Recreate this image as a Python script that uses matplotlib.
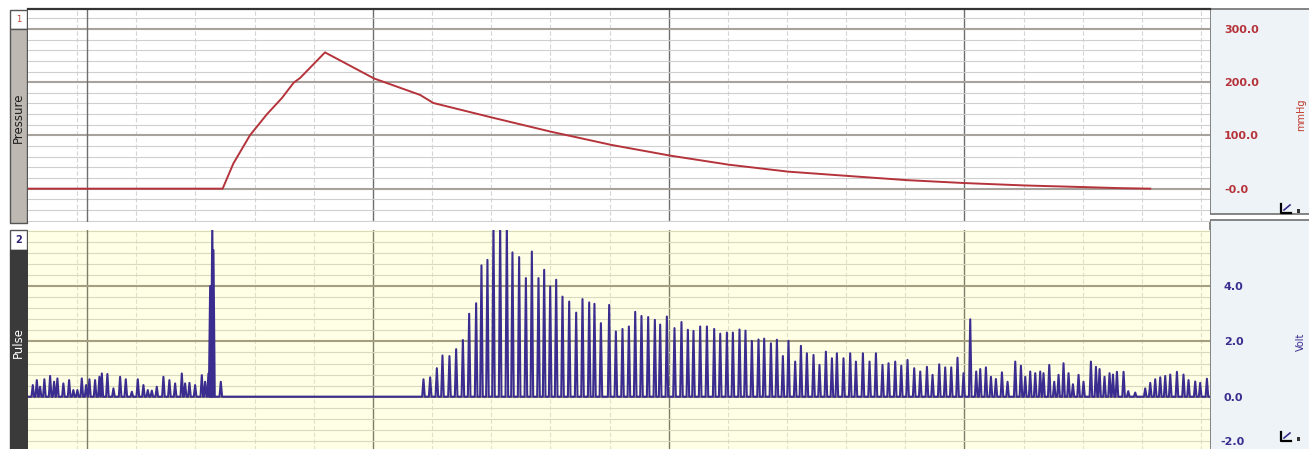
import matplotlib
matplotlib.use("Agg")
import matplotlib.pyplot as plt
from matplotlib.patches import Rectangle
from matplotlib.ticker import MultipleLocator, FixedLocator

# ---- data (time in seconds) ----
# pressure trace, mmHg
p_time = [-8.3, 24.6, 26.4, 29.2, 32.1, 34.6, 36.6, 37.7, 41.9, 50.2, 58.0, 60.2,
          70.0, 80.1, 90.4, 100.3, 110.2, 120.2, 130.2, 140.3, 150.1, 160.3,
          170.1, 176.3, 181.4]
p_val = [0, 0, 47, 100, 140, 170, 199, 208, 256, 207, 176, 161,
         134, 107, 82, 62, 45, 32, 24, 16, 10.5, 6,
         3, 1, 0]

# pulse peaks (time of each beat, peak height in V)
beat_time = [-7.49, -6.81, -6.26, -5.53, -4.56, -3.89, -3.33, -2.32, -1.35, -0.63,
             0.05, 0.79, 1.52, 2.08, 3.04, 3.77, 4.18, 5.12, 6.14, 7.27,
             8.23, 9.25, 10.26, 11.21, 11.95, 12.63, 13.47, 14.59, 15.60, 16.57,
             17.70, 18.26, 18.99, 19.95, 21.08, 21.64, 22.20, 22.49, 22.85, 23.05,
             24.29,
             58.55, 59.68, 60.81, 61.76, 62.94, 64.07, 65.21, 66.27, 67.45, 68.35,
             69.36, 70.38, 71.51, 72.64, 73.59, 74.72, 75.86, 76.87, 77.99, 78.95,
             79.97, 80.98, 82.05, 83.18, 84.36, 85.43, 86.56, 87.45, 88.54, 89.94,
             91.07, 92.19, 93.27, 94.34, 95.40, 96.53, 97.66, 98.56, 99.69, 100.98,
             102.16, 103.24, 104.19, 105.32, 106.46, 107.69, 108.71, 109.84, 110.85, 111.97,
             112.98, 114.06, 115.18, 116.14, 117.28, 118.29, 119.30, 120.25, 121.38, 122.35,
             123.36, 124.48, 125.49, 126.57, 127.59, 128.43, 129.55, 130.68, 131.65, 132.83,
             133.95, 135.03, 136.14, 137.16, 138.29, 139.31, 140.37, 141.50, 142.52, 143.65,
             144.60, 145.73, 146.74, 147.76, 148.82, 149.84, 150.97, 151.98, 152.66, 153.62,
             154.47, 155.31, 156.33, 157.28, 158.58, 159.54, 160.27, 161.11, 161.96, 162.80,
             163.36, 164.33, 165.17, 165.90, 166.74, 167.59, 168.33, 169.28, 170.12, 171.37,
             172.22, 172.83, 173.67, 174.52, 175.10, 175.77, 176.89, 177.68, 178.86, 180.55,
             181.40, 182.24, 183.09, 183.93, 184.78, 185.91, 187.02, 187.87, 189.00, 189.84,
             190.98]
beat_peak = [0.42, 0.60, 0.36, 0.63, 0.75, 0.54, 0.66, 0.48, 0.60, 0.24,
             0.24, 0.66, 0.42, 0.63, 0.60, 0.72, 0.84, 0.82, 0.30, 0.72,
             0.63, 0.18, 0.63, 0.42, 0.24, 0.22, 0.36, 0.72, 0.60, 0.48,
             0.84, 0.48, 0.50, 0.42, 0.78, 0.54, 0.84, 4.00, 6.30, 5.30,
             0.54,
             0.63, 0.70, 1.03, 1.49, 1.47, 1.72, 2.05, 3.00, 3.38, 4.75,
             4.95, 6.30, 6.30, 6.30, 5.22, 5.05, 4.29, 5.25, 4.29, 4.59,
             3.99, 4.23, 3.62, 3.44, 3.04, 3.53, 3.41, 3.36, 2.66, 3.32,
             2.36, 2.45, 2.54, 3.07, 2.92, 2.88, 2.78, 2.61, 2.90, 2.48,
             2.70, 2.42, 2.38, 2.54, 2.54, 2.45, 2.28, 2.32, 2.32, 2.43,
             2.39, 2.02, 2.07, 2.10, 1.93, 2.06, 1.47, 2.02, 1.27, 1.84,
             1.57, 1.51, 1.15, 1.63, 1.39, 1.57, 1.39, 1.57, 1.27, 1.57,
             1.27, 1.57, 1.15, 1.21, 1.27, 1.12, 1.33, 1.03, 0.91, 1.08,
             0.79, 1.17, 1.06, 1.06, 1.41, 0.85, 2.80, 0.91, 1.00, 1.06,
             0.72, 0.64, 0.88, 0.54, 1.27, 1.12, 0.72, 0.91, 0.85, 0.91,
             0.85, 1.15, 0.54, 0.79, 1.21, 0.85, 0.45, 0.79, 0.54, 1.27,
             1.08, 1.00, 0.72, 0.85, 0.80, 0.90, 0.90, 0.20, 0.15, 0.30,
             0.50, 0.63, 0.70, 0.75, 0.80, 0.90, 0.80, 0.60, 0.55, 0.50,
             0.65]

event_time = 1.7
major_times = [50, 100, 150]
p_ticks = [0, 100, 200, 300]
p_labels = ["-0.0", "100.0", "200.0", "300.0"]
v_ticks = [0, 2, 4]
v_labels = ["0.0", "2.0", "4.0"]
v_low, v_low_label = -2, "-2.0"
t_range = (-8.3, 191.5)

W, H = 1309, 449
fig = plt.figure(figsize=(W / 100, H / 100), dpi=100)
fig.patch.set_facecolor("white")

def box(x0, y0, x1, y1):
    # pixel box -> figure fraction rect
    return [x0 / W, 1 - y1 / H, (x1 - x0) / W, (y1 - y0) / H]

# background decoration layer in pixel coords
deco = fig.add_axes([0, 0, 1, 1], zorder=0)
deco.set_xlim(0, W)
deco.set_ylim(H, 0)
deco.axis("off")
# right side panels
deco.add_patch(Rectangle((1210, 9), 110, 205, facecolor="#eef3f7", edgecolor="#6f6f6f", lw=1.2))
deco.add_patch(Rectangle((1210, 220), 110, 260, facecolor="#eef3f7", edgecolor="#6f6f6f", lw=1.2))
# left strips
deco.add_patch(Rectangle((10, 10), 17, 19, facecolor="white", edgecolor="#555555", lw=1))
deco.add_patch(Rectangle((10, 29), 17, 194, facecolor="#bdb8b2", edgecolor="#555555", lw=1))
deco.add_patch(Rectangle((10, 230), 17, 20, facecolor="white", edgecolor="#555555", lw=1))
deco.add_patch(Rectangle((10, 250), 17, 220, facecolor="#3a3a3a", edgecolor="#3a3a3a", lw=1))
deco.text(18.5, 19, "1", color="#c0392b", fontsize=6, ha="center", va="center")
deco.text(18.5, 240, "2", color="#2e2470", fontsize=7, fontweight="bold", ha="center", va="center")
deco.text(18.5, 118, "Pressure", color="#1e1e1e", fontsize=8.5, rotation=90, ha="center", va="center")
deco.text(18.5, 343, "Pulse", color="white", fontsize=8.5, rotation=90, ha="center", va="center")
# unit labels at the right edge
deco.text(1301, 115, "mmHg", color="#c0392b", fontsize=7, rotation=90, ha="center", va="center")
deco.text(1301, 342, "Volt", color="#3a2d8f", fontsize=7, rotation=90, ha="center", va="center")
# small scale icons
for yy in (213, 441):
    deco.plot([1281, 1281, 1291], [yy - 9, yy, yy], color="black", lw=1.6)
    deco.plot([1284, 1290], [yy - 3, yy - 8], color="#3a2d8f", lw=1.2)
    deco.add_patch(Rectangle((1297, yy - 4), 3, 4, facecolor="#333333", edgecolor="none"))


def style_axes(ax, minor_y, major_col, minor_col, vmin_col, vmaj_col):
    ax.set_xlim(*t_range)
    ax.xaxis.set_major_locator(FixedLocator(major_times))
    ax.xaxis.set_minor_locator(MultipleLocator(10))
    ax.yaxis.set_minor_locator(MultipleLocator(minor_y))
    ax.grid(which="minor", axis="y", color=minor_col, lw=0.8)
    ax.grid(which="major", axis="y", color=major_col, lw=1.5)
    ax.grid(which="minor", axis="x", color=vmin_col, lw=0.8, ls=(0, (4, 2)))
    ax.grid(which="major", axis="x", color=vmaj_col, lw=1.0)
    ax.axvline(event_time, color=vmaj_col, lw=1.0, zorder=1)
    ax.set_axisbelow(True)
    ax.tick_params(which="both", length=0, labelbottom=False)
    ax.yaxis.tick_right()
    for s in ax.spines.values():
        s.set_visible(False)


# ---- pressure ----
ax1 = fig.add_axes(box(28, 9, 1210, 222), zorder=2)
ax1.set_facecolor("white")
ax1.plot(p_time, p_val, color="#b5333b", lw=1.4, zorder=3)
ax1.set_ylim(-62.6, 337.5)
ax1.set_yticks(p_ticks, p_labels)
style_axes(ax1, 20, "#a8a29c", "#cfcfcf", "#d6d6d6", "#6e6e6e")
ax1.spines["top"].set_visible(True)
ax1.spines["top"].set_color("#333333")
ax1.spines["top"].set_linewidth(1.6)
ax1.tick_params(axis="y", pad=10, labelsize=8, labelcolor="#b5333b")
for lab in ax1.get_yticklabels():
    lab.set_fontweight("bold")

# ---- pulse ----
trace_t = [t_range[0]]
trace_v = [0]
for t, h in zip(beat_time, beat_peak):
    trace_t += [t - 0.22, t, t + 0.22]
    trace_v += [0, h, 0]
trace_t.append(t_range[1])
trace_v.append(0)

ax2 = fig.add_axes(box(28, 230, 1210, 460), zorder=2)
ax2.set_facecolor("#ffffe6")
ax2.plot(trace_t, trace_v, color="#3a2d8f", lw=1.5, zorder=3)
ax2.set_ylim(-2.29, 6.03)
ax2.set_yticks(v_ticks, v_labels)
style_axes(ax2, 0.4, "#a39f80", "#d9d9bd", "#e0e0c4", "#7f7d68")
ax2.grid(False, which="major", axis="y")
for v in [v_low] + v_ticks:
    ax2.axhline(v, color="#a39f80", lw=1.5, zorder=1)
ax2.tick_params(axis="y", pad=10, labelsize=8, labelcolor="#3a2d8f")
for lab in ax2.get_yticklabels():
    lab.set_fontweight("bold")
# lowest tick label, nudged up so it stays inside the picture
ax2.annotate(v_low_label, xy=(1, v_low), xycoords=("axes fraction", "data"),
             xytext=(10, 5), textcoords="offset pixels", ha="left", va="bottom",
             annotation_clip=False, fontsize=8, fontweight="bold", color="#3a2d8f")

fig.savefig("out.png", dpi=100)
